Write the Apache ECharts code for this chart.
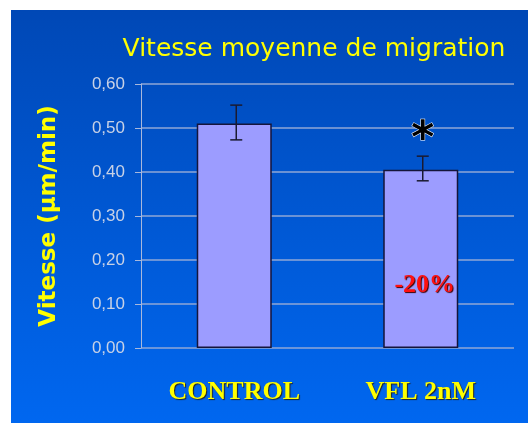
<!DOCTYPE html>
<html>
<head>
<meta charset="utf-8">
<script src="https://cdn.jsdelivr.net/npm/echarts@6/dist/echarts.min.js"></script>
<style>
  html, body { margin: 0; padding: 0; background: #fff; }
  #main { position: absolute; left: 11px; top: 10px; width: 517px; height: 413px; }
</style>
</head>
<body>
<div id="main"></div>
<script>
// data
const categories = ['CONTROL', 'VFL 2nM'];
const speeds = [0.51, 0.405];
const errLow = [0.473, 0.38];
const errHigh = [0.552, 0.436];
const yTicks = [0, 0.1, 0.2, 0.3, 0.4, 0.5, 0.6];
const starValue = 0.495;
const pctValue = 0.143;
const pctText = '-20%';

const chart = echarts.init(document.getElementById('main'));

chart.setOption({
  backgroundColor: new echarts.graphic.LinearGradient(0, 0, 0, 1, [
    { offset: 0, color: '#0048b6' },
    { offset: 1, color: '#0067f0' }
  ]),
  animation: false,
  title: {
    text: 'Vitesse moyenne de migration',
    left: 298,
    top: 22,
    textAlign: 'center',
    textStyle: {
      color: '#ffff00',
      fontFamily: '"Comic Sans MS", "DejaVu Sans", sans-serif',
      fontSize: 25,
      fontWeight: 'normal'
    }
  },
  grid: { left: 130, right: 14, top: 74, bottom: 75 },
  xAxis: {
    type: 'category',
    data: categories,
    axisLine: { show: false },
    axisTick: { show: false },
    axisLabel: {
      margin: 31,
      color: '#ffff00',
      fontFamily: '"Liberation Serif", "Times New Roman", serif',
      fontWeight: 'bold',
      fontSize: 26,
      textShadowColor: '#222',
      textShadowOffsetX: 1,
      textShadowOffsetY: 1,
      textShadowBlur: 1
    }
  },
  yAxis: {
    type: 'value',
    min: 0,
    max: 0.6,
    interval: 0.1,
    name: 'Vitesse (\u00b5m/min)',
    nameLocation: 'middle',
    nameRotate: 90,
    nameGap: 80,
    nameTextStyle: {
      color: '#ffff00',
      fontFamily: '"Comic Sans MS", "DejaVu Sans", sans-serif',
      fontWeight: 'bold',
      fontSize: 23
    },
    axisLine: { show: true, lineStyle: { color: '#a8b8dc', width: 1 } },
    axisTick: { show: true, inside: false, length: 6, lineStyle: { color: '#a8b8dc' } },
    axisLabel: {
      margin: 16,
      color: '#c8d2e6',
      fontFamily: 'Arial, "Liberation Sans", sans-serif',
      fontSize: 17,
      formatter: function (v) {
        return yTicks.indexOf(+v.toFixed(1)) >= 0 ? v.toFixed(2).replace('.', ',') : '';
      }
    },
    splitLine: { show: true, lineStyle: { color: '#8fa7d6', width: 1.5 } }
  },
  series: [
    {
      type: 'bar',
      data: speeds,
      barWidth: 75,
      itemStyle: { color: '#9c9cff', borderColor: '#15153a', borderWidth: 1.5 },
      markPoint: {
        symbol: 'circle',
        symbolSize: 0,
        data: [
          {
            coord: [1, starValue],
            value: '*',
            label: {
              show: true,
              formatter: '*',
              color: '#000',
              fontSize: 44,
              fontFamily: '"DejaVu Sans", sans-serif',
              fontWeight: 'bold',
              offset: [2, 10],
              textBorderColor: '#ffffff',
              textBorderWidth: 1
            }
          },
          {
            coord: [1, pctValue],
            value: pctText,
            label: {
              show: true,
              formatter: pctText,
              color: '#ff1010',
              fontSize: 26,
              fontFamily: '"Liberation Serif", "Times New Roman", serif',
              fontWeight: 'bold',
              offset: [4, 0],
              textShadowColor: '#400000',
              textShadowOffsetX: 1,
              textShadowOffsetY: 1,
              textShadowBlur: 1
            }
          }
        ]
      }
    },
    {
      type: 'custom',
      data: categories.map((c, i) => [i, errLow[i], errHigh[i]]),
      z: 5,
      renderItem: function (params, api) {
        const lo = api.coord([api.value(0), api.value(1)]);
        const hi = api.coord([api.value(0), api.value(2)]);
        const x = lo[0] + 2;
        const w = 6;
        const style = { stroke: '#1a1a30', lineWidth: 1.5 };
        return {
          type: 'group',
          children: [
            { type: 'line', shape: { x1: x, y1: hi[1], x2: x, y2: lo[1] }, style: style },
            { type: 'line', shape: { x1: x - w, y1: hi[1], x2: x + w, y2: hi[1] }, style: style },
            { type: 'line', shape: { x1: x - w, y1: lo[1], x2: x + w, y2: lo[1] }, style: style }
          ]
        };
      }
    }
  ]
});
</script>
</body>
</html>
